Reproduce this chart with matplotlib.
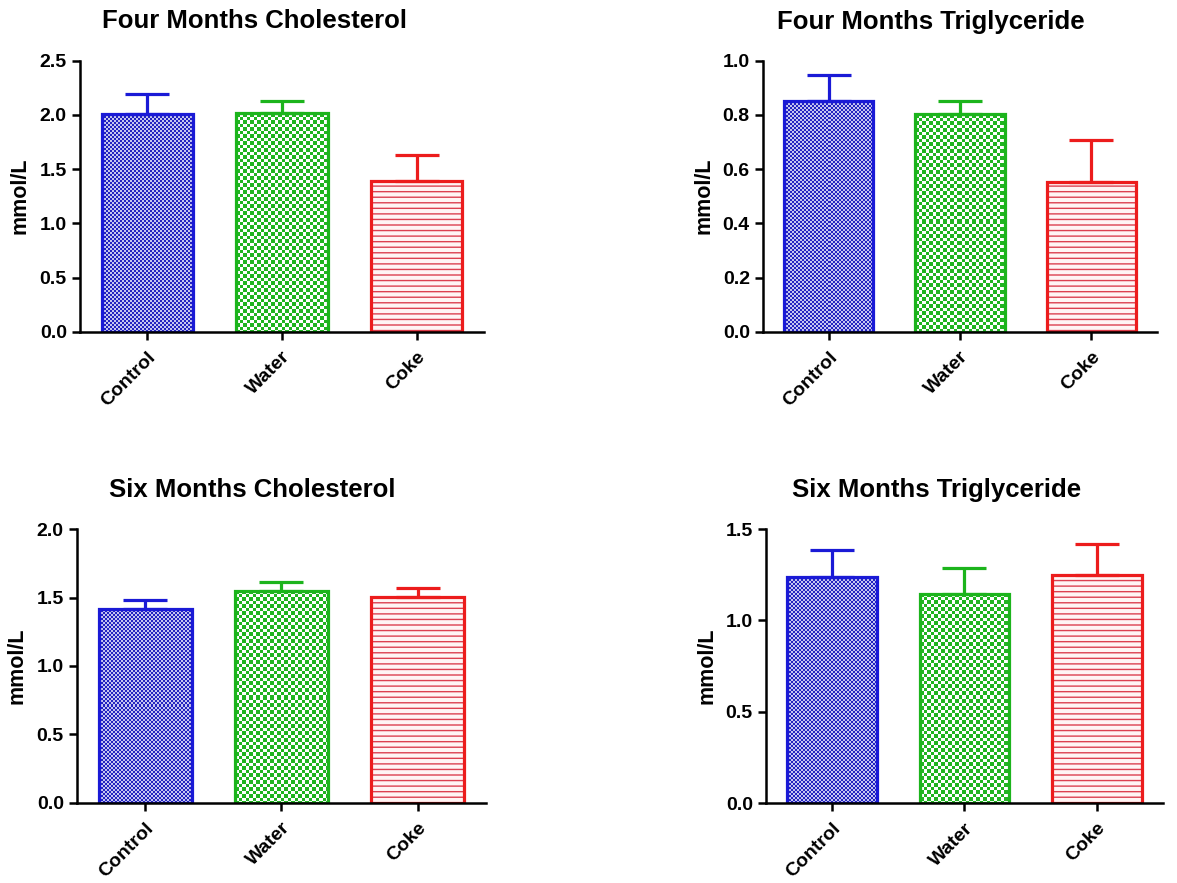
import numpy as np
import matplotlib
matplotlib.use('Agg')
import matplotlib.pyplot as plt
from matplotlib.ticker import FormatStrFormatter, MultipleLocator
from matplotlib.colors import to_rgb

plt.rcParams['font.family'] = ['Liberation Sans', 'DejaVu Sans']
plt.rcParams['font.weight'] = 'bold'
plt.rcParams['hatch.linewidth'] = 1.0

categories = ['Control', 'Water', 'Coke']

four_chol_mean = [2.01, 2.02, 1.39]
four_chol_sem = [0.18, 0.105, 0.24]
four_tg_mean = [0.852, 0.802, 0.551]
four_tg_sem = [0.096, 0.05, 0.156]
six_chol_mean = [1.42, 1.551, 1.502]
six_chol_sem = [0.063, 0.066, 0.066]
six_tg_mean = [1.235, 1.145, 1.25]
six_tg_sem = [0.15, 0.14, 0.17]

titles = ['Four Months Cholesterol', 'Four Months Triglyceride',
          'Six Months Cholesterol', 'Six Months Triglyceride']
y_label = 'mmol/L'
y_max = [2.5, 1.0, 2.0, 1.5]
y_step = [0.5, 0.2, 0.5, 0.5]

means = [four_chol_mean, four_tg_mean, six_chol_mean, six_tg_mean]
sems = [four_chol_sem, four_tg_sem, six_chol_sem, six_tg_sem]

colors = ['#1a1ad6', '#1cb41c', '#ec1c1c']
pat_fg = ['#2222c0', '#20b420', '#dc4050']
pat_bg = ['#c4c4f0', '#ffffff', '#fff4f4']
patterns = [('checker', 2.0), ('checker', 3.5), ('lines', None)]

W, H = 1177, 883
fig = plt.figure(figsize=(W / 100, H / 100), dpi=100)

# axes rectangles in pixels: left, top, right, bottom
rects_px = [(80, 60.7, 484, 331.7), (763, 60.7, 1157, 331.7),
            (77, 529.3, 486, 802.7), (766, 529.0, 1163, 803.0)]
title_pos = [(255, 28.5), (931, 28.5), (252, 497), (937, 497)]


def fill_checker(ax, bar, cell, color, bg):
    x0, y0 = bar.get_x(), bar.get_y()
    w, h = bar.get_width(), bar.get_height()
    p0 = ax.transData.transform((x0, y0))
    p1 = ax.transData.transform((x0 + w, y0 + h))
    nx = max(1, int(round(p1[0] - p0[0])))
    ny = max(1, int(round(p1[1] - p0[1])))
    jj, ii = np.mgrid[0:ny, 0:nx]
    jj_top = (ny - 1 - jj)
    mask = ((np.floor(ii / cell) + np.floor(jj_top / cell)) % 2 == 0)
    img = np.ones((ny, nx, 3))
    img[:] = to_rgb(bg)
    img[mask] = to_rgb(color)
    im = ax.imshow(img, extent=(x0, x0 + w, y0, y0 + h), origin='lower',
                   aspect='auto', interpolation='nearest', zorder=1)
    im.set_clip_path(bar)


for k in range(4):
    l, t, r, b = rects_px[k]
    ax = fig.add_axes([l / W, (H - b) / H, (r - l) / W, (b - t) / H])
    x = np.arange(len(categories))
    ax.set_xlim(-0.5, 2.5)
    ax.set_ylim(0, y_max[k])
    bars = ax.bar(x, means[k], width=0.68, facecolor='none',
                  edgecolor=colors, linewidth=2.3, zorder=2)
    for i, bar in enumerate(bars):
        kind, cell = patterns[i]
        if kind == 'checker':
            fill_checker(ax, bar, cell, pat_fg[i], pat_bg[i])
        else:
            ax.bar(x[i], means[k][i], width=0.68, facecolor=pat_bg[i],
                   edgecolor=pat_fg[i], hatch='---', linewidth=0, zorder=1)
        ax.errorbar(x[i], means[k][i], yerr=[[0], [sems[k][i]]], fmt='none',
                    ecolor=colors[i], elinewidth=2.3, capsize=16,
                    capthick=2.3, zorder=1.5)
    ax.set_xlim(-0.5, 2.5)
    ax.set_ylim(0, y_max[k])
    for s in ['top', 'right']:
        ax.spines[s].set_visible(False)
    for s in ['left', 'bottom']:
        ax.spines[s].set_linewidth(1.8)
    ax.yaxis.set_major_locator(MultipleLocator(y_step[k]))
    ax.yaxis.set_major_formatter(FormatStrFormatter('%.1f'))
    ax.tick_params(axis='both', direction='out', length=6, width=1.8,
                   labelsize=14)
    ax.tick_params(axis='x', pad=6)
    ax.set_xticks(x)
    ax.set_xticklabels(categories, rotation=45, ha='right', va='top',
                       rotation_mode='anchor', fontsize=14, fontweight='bold')
    for lab in ax.get_yticklabels():
        lab.set_fontweight('bold')
    ax.set_ylabel(y_label, fontsize=15.5, fontweight='bold')
    ax.yaxis.set_label_coords(-0.122, 0.5)
    tx, ty = title_pos[k]
    fig.text(tx / W, 1 - ty / H, titles[k], ha='center', va='baseline',
             fontsize=18.5, fontweight='bold')

fig.savefig('out.png', dpi=100, facecolor='white')
